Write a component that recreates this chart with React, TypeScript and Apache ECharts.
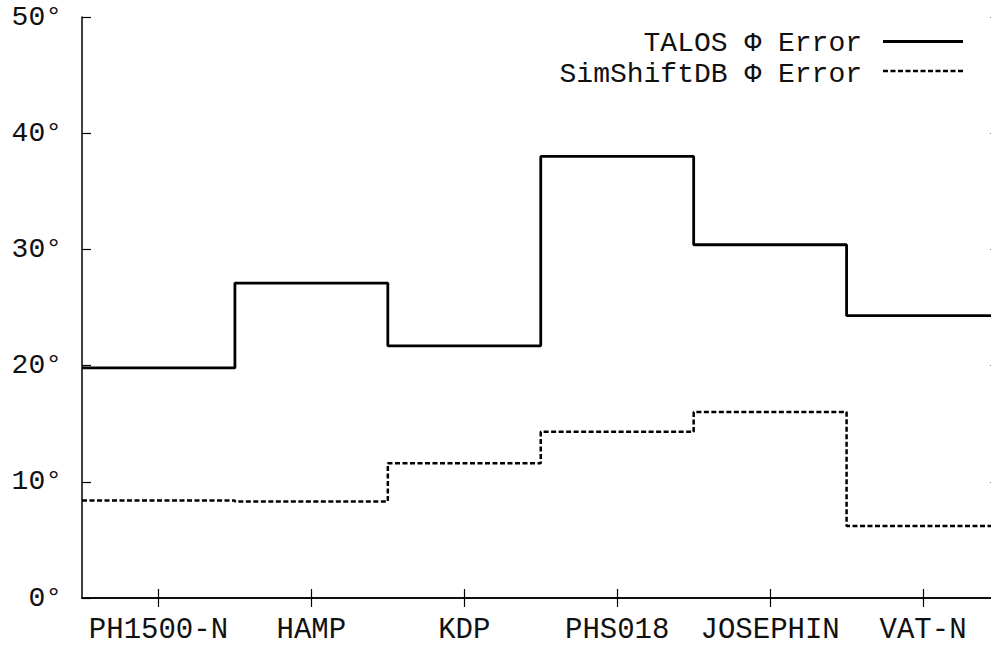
import React, { useEffect, useRef } from "react";
import * as echarts from "echarts";

const categories = ["PH1500-N", "HAMP", "KDP", "PHS018", "JOSEPHIN", "VAT-N"];
const talosError = [19.8, 27.1, 21.7, 38.0, 30.4, 24.3];
const simShiftError = [8.4, 8.3, 11.6, 14.3, 16.0, 6.2];
const yTicks = [0, 10, 20, 30, 40, 50];
const seriesNames = ["TALOS Φ Error", "SimShiftDB Φ Error"];

const FONT = "Liberation Mono";

function stepData(values: number[]) {
  const pts: [number, number][] = values.map((v, i) => [i, v]);
  pts.push([values.length, values[values.length - 1]]);
  return pts;
}

export default function App() {
  const ref = useRef<HTMLDivElement>(null);
  useEffect(() => {
    if (!ref.current) return;
    const chart = echarts.init(ref.current, undefined, { renderer: "svg" });
    const axisLine = { show: true, lineStyle: { color: "#000", width: 1.5 } };
    const tick = { show: true, inside: true, length: 9, alignWithLabel: true, lineStyle: { color: "#000", width: 1.2 } };
    chart.setOption({
      animation: false,
      backgroundColor: "#fff",
      grid: { left: 82, top: 17, right: 0.5, bottom: 47 },
      xAxis: [
        {
          type: "category",
          position: "bottom",
          data: categories,
          boundaryGap: true,
          axisLine,
          axisTick: tick,
          axisLabel: { fontFamily: FONT, fontSize: 29, lineHeight: 24, color: "#111", margin: 20, interval: 0 },
          splitLine: { show: false },
        },
        {
          type: "category",
          position: "top",
          data: categories,
          boundaryGap: true,
          axisLine,
          axisTick: tick,
          axisLabel: { show: false },
          splitLine: { show: false },
        },
        {
          type: "value",
          min: 0,
          max: categories.length,
          show: false,
        },
      ],
      yAxis: [
        {
          type: "value",
          min: yTicks[0],
          max: yTicks[yTicks.length - 1],
          interval: 10,
          position: "left",
          axisLine,
          axisTick: { show: true, inside: true, length: 9, lineStyle: { color: "#000", width: 1.2 } },
          axisLabel: { fontFamily: FONT, fontSize: 28, lineHeight: 24, color: "#111", margin: 20, formatter: "{value}°" },
          splitLine: { show: false },
        },
        {
          type: "value",
          min: yTicks[0],
          max: yTicks[yTicks.length - 1],
          interval: 10,
          position: "right",
          axisLine,
          axisTick: { show: true, inside: true, length: 9, lineStyle: { color: "#000", width: 1.2 } },
          axisLabel: { show: false },
          splitLine: { show: false },
        },
      ],
      series: [
        {
          name: seriesNames[0],
          type: "line",
          xAxisIndex: 2,
          yAxisIndex: 0,
          step: "end",
          symbol: "none",
          data: stepData(talosError),
          lineStyle: { color: "#000", width: 2.8, type: "solid" },
        },
        {
          name: seriesNames[1],
          type: "line",
          xAxisIndex: 2,
          yAxisIndex: 0,
          step: "end",
          symbol: "none",
          data: stepData(simShiftError),
          lineStyle: { color: "#000", width: 2.5, type: [5, 2.5] },
        },
      ],
      graphic: [
        {
          type: "text",
          x: 862,
          y: 43,
          style: {
            text: seriesNames[0],
            align: "right",
            verticalAlign: "middle",
            fontFamily: FONT,
            fontSize: 28,
            lineHeight: 24,
            fill: "#111",
          },
        },
        {
          type: "line",
          shape: { x1: 883, y1: 41.5, x2: 963, y2: 41.5 },
          style: { stroke: "#000", lineWidth: 2.8 },
        },
        {
          type: "text",
          x: 862,
          y: 74,
          style: {
            text: seriesNames[1],
            align: "right",
            verticalAlign: "middle",
            fontFamily: FONT,
            fontSize: 28,
            lineHeight: 24,
            fill: "#111",
          },
        },
        {
          type: "line",
          shape: { x1: 883, y1: 71, x2: 963, y2: 71 },
          style: { stroke: "#000", lineWidth: 2.5, lineDash: [5, 2.5] },
        },
      ],
    });
    return () => chart.dispose();
  }, []);
  return (
    <div style={{ position: "fixed", left: 0, top: 0, width: 991, height: 645, overflow: "hidden", background: "#fff" }}>
      <div ref={ref} style={{ width: 1000, height: 645 }} />
    </div>
  );
}
